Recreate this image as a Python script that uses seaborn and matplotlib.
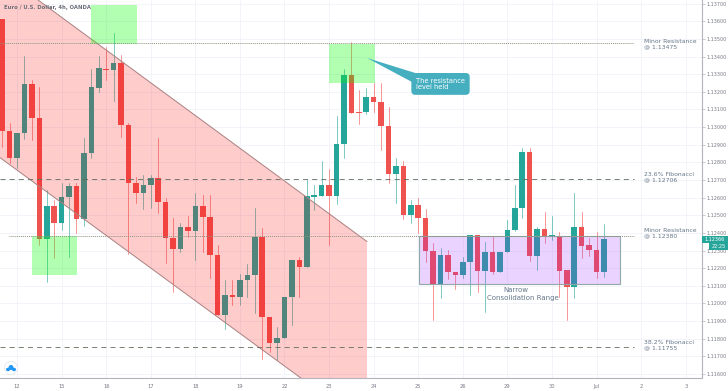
import pandas as pd
import matplotlib.pyplot as plt
import seaborn as sns
from matplotlib.patches import Rectangle, Ellipse, Polygon

# candle index -2 is the first one drawn, index 0 is the 12th
first_candle = -2
opens = [1.13613, 1.12978, 1.12825, 1.12967, 1.13245, 1.13052, 1.12366, 1.12553, 1.12457, 1.12604,
         1.12666, 1.12479, 1.12853, 1.13222, 1.13330, 1.13324, 1.13364, 1.13012, 1.12683, 1.12627,
         1.12672, 1.12712, 1.12576, 1.12372, 1.12309, 1.12434, 1.12411, 1.12553, 1.12491, 1.12275,
         1.11935, 1.12048, 1.12037, 1.12133, 1.12162, 1.12377, 1.11924, 1.11776, 1.11805, 1.12037,
         1.12247, 1.12207, 1.12604, 1.12610, 1.12672, 1.12610, 1.12904, 1.13296, 1.13086, 1.13086,
         1.13171, 1.13143, 1.13007, 1.12734, 1.12780, 1.12502, 1.12559, 1.12485, 1.12298, 1.12111,
         1.12275, 1.12179, 1.12162, 1.12236, 1.12389, 1.12184, 1.12292, 1.12179, 1.12292, 1.12417,
         1.12542, 1.12859, 1.12270, 1.12423, 1.12377, 1.12383, 1.12190, 1.12094, 1.12434, 1.12332,
         1.12304, 1.12179]
highs = [1.13613, 1.13024, 1.12967, 1.13403, 1.13267, 1.13228, 1.12644, 1.12587, 1.12683, 1.12683,
         1.12683, 1.12939, 1.13330, 1.13403, 1.13454, 1.13534, 1.13409, 1.13024, 1.12717, 1.12729,
         1.12729, 1.12939, 1.12598, 1.12485, 1.12457, 1.12496, 1.12627, 1.12615, 1.12615, 1.12332,
         1.12133, 1.12133, 1.12167, 1.12224, 1.12542, 1.12428, 1.11924, 1.11867, 1.12037, 1.12247,
         1.12264, 1.12700, 1.12672, 1.12808, 1.12763, 1.13063, 1.13330, 1.13483, 1.13211, 1.13222,
         1.13250, 1.13250, 1.13114, 1.12825, 1.12808, 1.12587, 1.12598, 1.12536, 1.12343, 1.12315,
         1.12304, 1.12179, 1.12264, 1.12389, 1.12389, 1.12349, 1.12383, 1.12292, 1.12474, 1.12672,
         1.12882, 1.12882, 1.12434, 1.12519, 1.12496, 1.12406, 1.12190, 1.12627, 1.12519, 1.12372,
         1.12406, 1.12451]
lows = [1.12888, 1.12797, 1.12768, 1.12933, 1.12927, 1.12332, 1.12122, 1.12258, 1.12417, 1.12264,
        1.12400, 1.12440, 1.12825, 1.13199, 1.13267, 1.13148, 1.12944, 1.12281, 1.12570, 1.12536,
        1.12542, 1.12513, 1.12230, 1.12065, 1.12292, 1.12377, 1.12247, 1.12292, 1.12145, 1.11935,
        1.11856, 1.11992, 1.11992, 1.12037, 1.11946, 1.11686, 1.11725, 1.11680, 1.11805, 1.11878,
        1.12037, 1.12207, 1.12530, 1.12610, 1.12332, 1.12565, 1.12825, 1.13080, 1.13018, 1.13075,
        1.13086, 1.12871, 1.12683, 1.12570, 1.12479, 1.12457, 1.12400, 1.12236, 1.11907, 1.12031,
        1.12139, 1.12082, 1.12145, 1.12048, 1.12065, 1.11952, 1.12167, 1.12179, 1.12292, 1.12411,
        1.12485, 1.12241, 1.12190, 1.12343, 1.12360, 1.12037, 1.11907, 1.12031, 1.12258, 1.12270,
        1.12145, 1.12150]
closes = [1.12978, 1.12825, 1.12967, 1.13245, 1.13052, 1.12366, 1.12553, 1.12457, 1.12604, 1.12666,
          1.12479, 1.12853, 1.13228, 1.13335, 1.13324, 1.13364, 1.13012, 1.12683, 1.12627, 1.12672,
          1.12712, 1.12576, 1.12372, 1.12309, 1.12434, 1.12411, 1.12553, 1.12491, 1.12275, 1.11935,
          1.12048, 1.12037, 1.12133, 1.12162, 1.12377, 1.11924, 1.11776, 1.11805, 1.12037, 1.12247,
          1.12207, 1.12610, 1.12615, 1.12672, 1.12610, 1.12904, 1.13296, 1.13080, 1.13080, 1.13171,
          1.13143, 1.13007, 1.12734, 1.12780, 1.12502, 1.12559, 1.12485, 1.12298, 1.12111, 1.12275,
          1.12179, 1.12162, 1.12236, 1.12389, 1.12184, 1.12292, 1.12179, 1.12292, 1.12417, 1.12542,
          1.12859, 1.12270, 1.12423, 1.12377, 1.12389, 1.12184, 1.12094, 1.12434, 1.12326, 1.12304,
          1.12179, 1.12366]

day_ticks = [0, 6, 12, 18, 24, 30, 36, 42, 48, 54, 60, 66, 72, 78, 84, 90]
day_labels = ['12', '15', '16', '17', '18', '19', '22', '23', '24', '25', '26', '29', '30', 'Jul', '2', '3']
price_ticks = [1.116 + i * 0.001 for i in range(22)]

levels = [1.13475, 1.12706, 1.12380, 1.11755]
level_names = ['Minor Resistance\n@ 1.13475', '23.6% Fibonacci\n@ 1.12706',
               'Minor Resistance\n@ 1.12380', '38.2% Fibonacci\n@ 1.11755']

UP = '#26a69a'
DOWN = '#ef5350'
TEXT = '#66778a'
AXIS = '#b2b5be'

sns.set_theme(style='white')
plt.rcParams['font.family'] = ['DejaVu Sans']

df = pd.DataFrame({'open': opens, 'high': highs, 'low': lows, 'close': closes})
df['candle'] = range(first_candle, first_candle + len(df))
df['side'] = ['up' if c >= o else 'down' for o, c in zip(opens, closes)]
wicks = df.melt(id_vars=['candle', 'side'], value_vars=['low', 'high'], value_name='price')

fig = plt.figure(figsize=(7.28, 3.91), dpi=100)
ax = fig.add_axes([0, 13 / 391, 701.7 / 728, 378 / 391])

sns.lineplot(data=wicks, x='candle', y='price', hue='side', units='candle', estimator=None,
             sort=False, palette={'up': UP, 'down': DOWN}, linewidth=0.6, alpha=0.7,
             legend=False, ax=ax, zorder=3)
body_colors = [UP if s == 'up' else DOWN for s in df['side']]
body_low = df[['open', 'close']].min(axis=1)
body_size = (df['open'] - df['close']).abs().clip(lower=0.00003)
ax.bar(df['candle'], body_size, bottom=body_low, width=0.75, color=body_colors, linewidth=0, zorder=3)

ax.set_xlim(-2.29, 92.15)
ax.set_ylim(1.11577, 1.13721)
ax.set_xlabel('')
ax.set_ylabel('')

# grid and axes
ax.set_xticks(day_ticks)
ax.set_xticklabels(day_labels)
ax.set_yticks(price_ticks)
ax.set_yticklabels([f'{p:.5f}' for p in price_ticks])
ax.yaxis.tick_right()
ax.grid(True, color='#f0f3fa', linewidth=0.6, zorder=0)
ax.set_axisbelow(True)
ax.tick_params(axis='y', length=2, width=0.5, pad=1.1, labelsize=3.5, color=AXIS, labelcolor='#787b86')
ax.tick_params(axis='x', length=2, width=0.5, pad=2.5, labelsize=3.7, color=AXIS, labelcolor='#787b86')
for side in ['left', 'top']:
    ax.spines[side].set_visible(False)
for side in ['right', 'bottom']:
    ax.spines[side].set_color(AXIS)
    ax.spines[side].set_linewidth(0.8)

# falling channel
channel = Polygon([(-2.29, 1.13721), (2.83, 1.13721), (47.1, 1.12351), (47.1, 1.11577),
                   (38.2, 1.11577), (-2.29, 1.12827)], closed=True,
                  facecolor='#ff0000', alpha=0.2, edgecolor='none', zorder=4)
ax.add_patch(channel)
ax.plot([2.83, 47.1], [1.13721, 1.12351], color='#a98080', linewidth=0.7, zorder=4)
ax.plot([-2.29, 38.2], [1.12827, 1.11577], color='#a98080', linewidth=0.7, zorder=4)

# green zones
for x0, x1, y0, y1 in [(10, 16.15, 1.13472, 1.13693), (42, 48.2, 1.13250, 1.13472), (2, 8.1, 1.12162, 1.12383)]:
    ax.add_patch(Rectangle((x0, y0), x1 - x0, y1 - y0, facecolor='#00ff00', alpha=0.3,
                           edgecolor='none', zorder=5))

# consolidation range
ax.add_patch(Rectangle((54.1, 1.12111), 27.1, 0.00272, facecolor='#9c27ff', alpha=0.2,
                       edgecolor='none', zorder=4))
ax.add_patch(Rectangle((54.1, 1.12111), 27.1, 0.00272, fill=False, edgecolor='#8fa8a8',
                       linewidth=0.8, zorder=4))
ax.text(67.2, 1.12077, 'Narrow', ha='center', va='center', fontsize=5, color=TEXT, zorder=7)
ax.text(68.1, 1.12031, 'Consolidation Range', ha='center', va='center', fontsize=5, color=TEXT, zorder=7)

# levels
ax.plot([-2.29, 83], [levels[0], levels[0]], color='#8d9480', linewidth=0.7, linestyle=(0, (1, 1)), zorder=6)
ax.plot([-2.29, 83], [levels[1], levels[1]], color='#5f6b5a', linewidth=0.6, linestyle=(0, (6, 5)), zorder=6)
ax.plot([-1.08, 83], [levels[2], levels[2]], color='#8d9480', linewidth=0.7, linestyle=(0, (1, 1)), zorder=6)
ax.plot([-2.29, 83], [levels[3], levels[3]], color='#5f6b5a', linewidth=0.6, linestyle=(0, (6, 5)), zorder=6)
label_prices = [1.13472, 1.12717, 1.12397, 1.11762]
for name, price in zip(level_names, label_prices):
    ax.text(84.4, price, name, ha='left', va='center', fontsize=4.4, color=TEXT,
            linespacing=1.1, zorder=7)

# callout
ax.add_patch(Polygon([(47.1, 1.13392), (53.6, 1.13307), (53.16, 1.13256)], closed=True,
                     facecolor='#45afc0', edgecolor='none', zorder=7))
ax.text(53.7, 1.13245, 'The resistance\nlevel held', ha='left', va='center', fontsize=4.8, color='white',
        linespacing=1.1, zorder=8,
        bbox=dict(boxstyle='round,pad=0.7,rounding_size=0.6', facecolor='#45afc0', edgecolor='none'))

# title
fig.text(4 / 728, 1 - 8 / 391, 'Euro / U.S. Dollar, 4h, OANDA', ha='left', va='center',
         fontsize=3.75, fontweight='bold', color='#6a6d78')

# last price tag
fig.add_artist(Rectangle((702 / 728, 1 - 243 / 391), 26 / 728, 7 / 391, transform=fig.transFigure,
                         facecolor=UP, edgecolor='none'))
fig.add_artist(Rectangle((709 / 728, 1 - 249.5 / 391), 19 / 728, 6.5 / 391, transform=fig.transFigure,
                         facecolor=UP, edgecolor='none'))
fig.text(715 / 728, 1 - 239.5 / 391, '1.12366', ha='center', va='center', fontsize=3.5, color='white')
fig.text(718.5 / 728, 1 - 246.2 / 391, '22:25', ha='center', va='center', fontsize=3.5, color='white')

# cloud badge
fig.add_artist(Ellipse((11 / 728, 1 - 368 / 391), 13 / 728, 13 / 391, transform=fig.transFigure,
                       facecolor='white', edgecolor='#e3e6ee', linewidth=0.5))
for cx, cy, w, h in [(8, 369.5, 4, 3.5), (11, 367.5, 5, 5), (14, 369.5, 4, 3.5)]:
    fig.add_artist(Ellipse((cx / 728, 1 - cy / 391), w / 728, h / 391, transform=fig.transFigure,
                           facecolor='#2196f3', edgecolor='none'))

fig.savefig('out.png', dpi=100)
